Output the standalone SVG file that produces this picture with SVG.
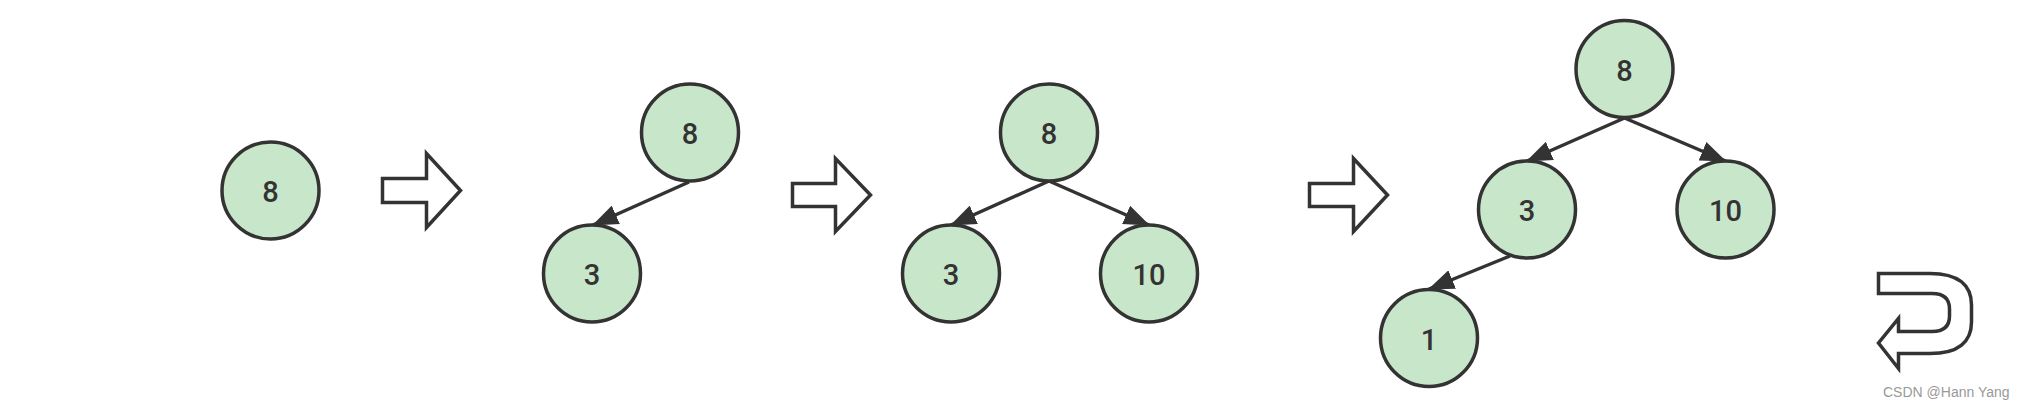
<svg xmlns="http://www.w3.org/2000/svg" width="2024" height="408" viewBox="0 0 2024 408">
  <style>
    .node circle { fill: #c8e6c9; stroke: #333333; stroke-width: 3.5; }
    .node text { font-family: Roboto, "Liberation Sans", Arial, sans-serif; font-size: 29px; font-weight: 500; fill: #333333; text-anchor: middle; }
    .edge { stroke: #333333; stroke-width: 3.5; fill: none; marker-end: url(#block); }
    .step { fill: #ffffff; stroke: #333333; stroke-width: 3.5; stroke-linejoin: miter; }
    .mark { font-family: "Liberation Sans", Arial, sans-serif; font-size: 14px; fill: #999999; }
  </style>
  <defs>
    <marker id="block" viewBox="0 0 26 20" refX="25" refY="10" markerWidth="26" markerHeight="20" markerUnits="userSpaceOnUse" orient="auto">
      <path d="M0,0 L26,10 L0,20 Z" fill="#333333"/>
    </marker>
  </defs>
  <rect width="2024" height="408" fill="#ffffff"/>

  <!-- connectors -->
  <g id="connectors">
    <line class="edge" x1="689" y1="182" x2="593" y2="225"/>
    <line class="edge" x1="1049" y1="181" x2="951" y2="225"/>
    <line class="edge" x1="1049" y1="181" x2="1149" y2="225"/>
    <line class="edge" x1="1624.5" y1="118" x2="1527" y2="161"/>
    <line class="edge" x1="1624.5" y1="118" x2="1725.5" y2="161"/>
    <line class="edge" x1="1510" y1="256" x2="1429" y2="289"/>
  </g>

  <!-- step arrows -->
  <g id="steps">
    <polygon id="step1" class="step" points="382.5,178.5 426.5,178.5 426.5,153.5 460.5,190.5 426.5,227.5 426.5,202.5 382.5,202.5"/>
    <polygon id="step2" class="step" points="792.5,183.5 835.5,183.5 835.5,158.5 870.5,195 835.5,231.5 835.5,206.5 792.5,206.5"/>
    <polygon id="step3" class="step" points="1309.5,183.5 1353.5,183.5 1353.5,158.5 1387.5,195 1353.5,231.5 1353.5,206.5 1309.5,206.5"/>
    <path id="uturn" class="step" d="M1878.5,273.5 H1930 C1958,273.5 1971.5,285 1971.5,305 V322 C1971.5,342 1958,353.5 1930,353.5 H1898.5 V368.5 L1878.5,343 L1898.5,318.5 V331.5 H1932 C1944,331.5 1949.5,326 1949.5,316 V309 C1949.5,299 1944,293.5 1932,293.5 H1878.5 Z"/>
  </g>

  <!-- stage 1 -->
  <g id="s1-n8" class="node"><circle cx="270.5" cy="190.5" r="48.5"/><text x="270.5" y="202">8</text></g>

  <!-- stage 2 -->
  <g id="s2-n8" class="node"><circle cx="690" cy="132.5" r="48.5"/><text x="690" y="144">8</text></g>
  <g id="s2-n3" class="node"><circle cx="592" cy="273.5" r="48.5"/><text x="592" y="285">3</text></g>

  <!-- stage 3 -->
  <g id="s3-n8" class="node"><circle cx="1049" cy="132.5" r="48.5"/><text x="1049" y="144">8</text></g>
  <g id="s3-n3" class="node"><circle cx="951" cy="273.5" r="48.5"/><text x="951" y="285">3</text></g>
  <g id="s3-n10" class="node"><circle cx="1149" cy="273.5" r="48.5"/><text x="1149" y="285">10</text></g>

  <!-- stage 4 -->
  <g id="s4-n8" class="node"><circle cx="1624.5" cy="69" r="48.5"/><text x="1624.5" y="80.5">8</text></g>
  <g id="s4-n3" class="node"><circle cx="1527" cy="209.5" r="48.5"/><text x="1527" y="221">3</text></g>
  <g id="s4-n10" class="node"><circle cx="1725.5" cy="209.5" r="48.5"/><text x="1725.5" y="221">10</text></g>
  <g id="s4-n1" class="node"><circle cx="1429" cy="338" r="48.5"/><text x="1429" y="349.5">1</text></g>

  <text class="mark" x="1883" y="397">CSDN @Hann Yang</text>
</svg>
